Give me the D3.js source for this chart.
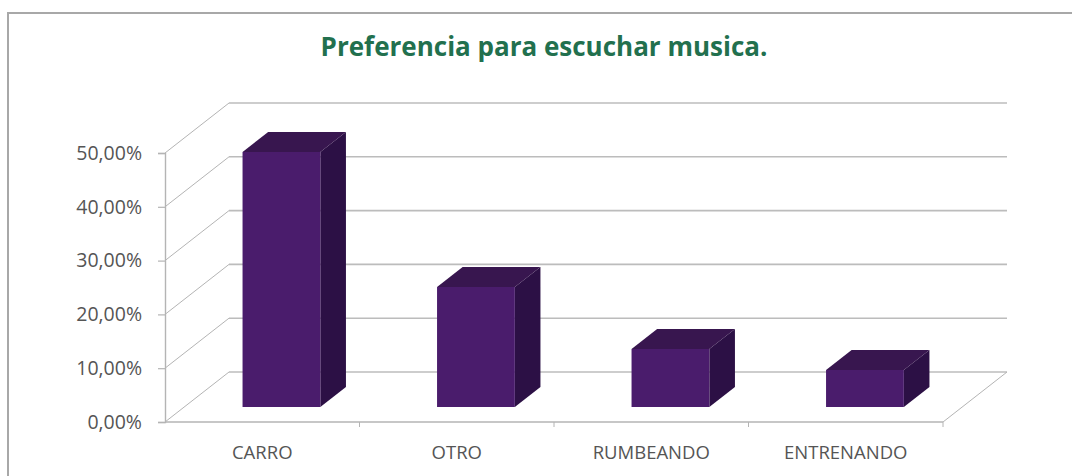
<!DOCTYPE html>
<html>
<head>
<meta charset="utf-8">
<script src="https://cdn.jsdelivr.net/npm/d3@7/dist/d3.min.js"></script>
<style>
  html, body { margin: 0; padding: 0; background: #ffffff; }
  svg { display: block; }
</style>
</head>
<body>
<script>
// Data
const categories = ["CARRO", "OTRO", "RUMBEANDO", "ENTRENANDO"];
const values = [0.474, 0.223, 0.108, 0.069];
const tickValues = [0, 0.1, 0.2, 0.3, 0.4, 0.5];
const tickLabels = ["0,00%", "10,00%", "20,00%", "30,00%", "40,00%", "50,00%"];
const title = "Preferencia para escuchar musica.";

const W = 1072, H = 476;
const FONT = "'Open Sans', 'Noto Sans', sans-serif";
const svg = d3.select("body").append("svg").attr("width", W).attr("height", H);

// Chart frame
svg.append("path")
  .attr("d", `M8,${H + 2} L8,13 L${W + 2},13`)
  .attr("fill", "none").attr("stroke", "#a8a8a8").attr("stroke-width", 2);

// Title
svg.append("text")
  .attr("x", 544).attr("y", 56)
  .attr("text-anchor", "middle")
  .attr("font-family", FONT)
  .attr("font-weight", "bold")
  .attr("font-size", 26)
  .attr("fill", "#22704e")
  .text(title);

// Front plane scales; depth is an oblique offset
const x = d3.scaleBand().domain(categories).range([165, 943]).paddingInner(0.6).paddingOuter(0.3);
const y = d3.scaleLinear().domain([0, 0.5]).range([422, 153]);
const DX = 64, DY = -50;
const proj = (px, py, z) => [px + z * DX, py + z * DY];
const Z0 = 0.3, Z1 = 0.7;

const x0 = x.range()[0], x1 = x.range()[1];
const grid = svg.append("g");

// Back wall gridlines
grid.selectAll("line.back").data(tickValues).join("line")
  .attr("x1", d => proj(x0, y(d), 1)[0]).attr("y1", d => proj(x0, y(d), 1)[1])
  .attr("x2", d => proj(x1, y(d), 1)[0]).attr("y2", d => proj(x1, y(d), 1)[1])
  .attr("stroke", "#bcbcbc").attr("stroke-width", 1.6);

// Side wall gridlines
grid.selectAll("line.side").data(tickValues).join("line")
  .attr("x1", x0).attr("y1", d => y(d))
  .attr("x2", d => proj(x0, y(d), 1)[0]).attr("y2", d => proj(x0, y(d), 1)[1])
  .attr("stroke", "#b4b4b4").attr("stroke-width", 1);

// Floor edges
grid.append("line")
  .attr("x1", x0).attr("y1", y(0)).attr("x2", x1).attr("y2", y(0))
  .attr("stroke", "#b4b4b4").attr("stroke-width", 1.6);
grid.append("line")
  .attr("x1", x1).attr("y1", y(0))
  .attr("x2", proj(x1, y(0), 1)[0]).attr("y2", proj(x1, y(0), 1)[1])
  .attr("stroke", "#b4b4b4").attr("stroke-width", 1);

// Category boundary ticks on the floor edge
const step = x.step();
grid.selectAll("line.ctick").data(d3.range(1, categories.length + 1)).join("line")
  .attr("x1", i => x0 + i * step).attr("x2", i => x0 + i * step)
  .attr("y1", y(0)).attr("y2", y(0) + 5)
  .attr("stroke", "#b4b4b4").attr("stroke-width", 1);

// Value axis
const axis = svg.append("g").attr("transform", `translate(${x0},0)`)
  .call(d3.axisLeft(y).tickValues(tickValues).tickSize(7).tickPadding(16)
    .tickFormat((d, i) => tickLabels[i]));
axis.select(".domain").attr("stroke", "#b4b4b4").attr("stroke-width", 1.4);
axis.selectAll(".tick line").attr("stroke", "#b4b4b4").attr("stroke-width", 1.2);
axis.selectAll(".tick text")
  .attr("font-family", FONT)
  .attr("font-size", 19.5).attr("fill", "#555555");

// Category labels
svg.append("g").selectAll("text").data(categories).join("text")
  .attr("x", d => x(d) + x.bandwidth() / 2)
  .attr("y", 459)
  .attr("text-anchor", "middle")
  .attr("font-family", FONT)
  .attr("font-size", 18.5).attr("fill", "#555555")
  .text(d => d);

// 3D bars
const bars = svg.append("g").selectAll("g").data(categories.map((c, i) => ({ c, v: values[i] }))).join("g");
const pt = p => p.join(",");
bars.append("polygon") // right side
  .attr("points", d => {
    const bx = x(d.c) + x.bandwidth();
    return [proj(bx, y(d.v), Z0), proj(bx, y(d.v), Z1), proj(bx, y(0), Z1), proj(bx, y(0), Z0)].map(pt).join(" ");
  })
  .attr("fill", "#2c1045");
bars.append("polygon") // top
  .attr("points", d => {
    const a = x(d.c), b = a + x.bandwidth();
    return [proj(a, y(d.v), Z0), proj(b, y(d.v), Z0), proj(b, y(d.v), Z1), proj(a, y(d.v), Z1)].map(pt).join(" ");
  })
  .attr("fill", "#38164f");
bars.append("polygon") // front
  .attr("points", d => {
    const a = x(d.c), b = a + x.bandwidth();
    return [proj(a, y(d.v), Z0), proj(b, y(d.v), Z0), proj(b, y(0), Z0), proj(a, y(0), Z0)].map(pt).join(" ");
  })
  .attr("fill", "#4a1c6c");
</script>
</body>
</html>
